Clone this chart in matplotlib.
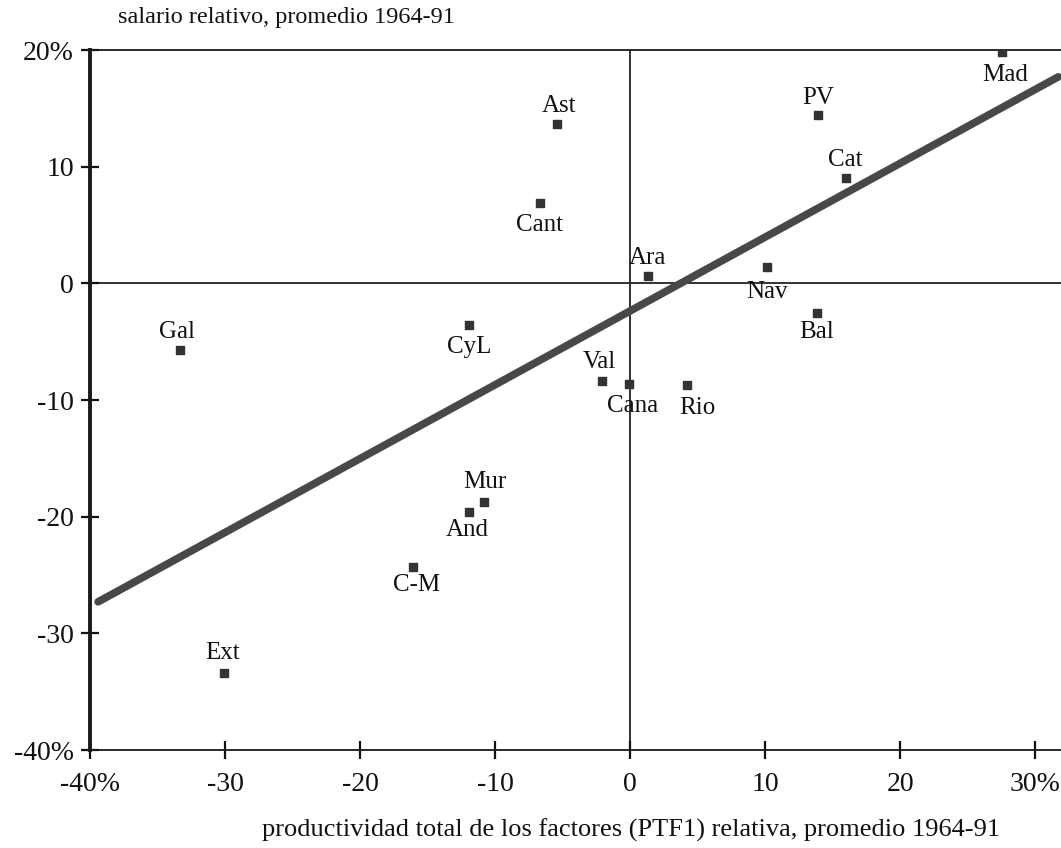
import numpy as np
import matplotlib.pyplot as plt

plt.rcParams["font.family"] = ["Liberation Serif", "DejaVu Serif"]

# Regions: relative TFP (x) vs relative wage (y), averages 1964-91
regions = ["Mad", "PV", "Cat", "Ast", "Cant", "Ara", "Nav", "Bal", "Gal",
           "CyL", "Val", "Cana", "Rio", "Mur", "And", "C-M", "Ext"]
ptf = [27.5, 13.9, 16.0, -5.4, -6.7, 1.3, 10.1, 13.8, -33.3,
       -11.9, -2.1, -0.1, 4.2, -10.8, -11.9, -16.1, -30.1]
salario = [19.8, 14.4, 9.0, 13.7, 6.9, 0.6, 1.4, -2.5, -5.7,
           -3.6, -8.4, -8.6, -8.7, -18.7, -19.6, -24.3, -33.4]

# label offsets in pixels (dx, dy) relative to each marker
label_offsets = [(4, -23), (0, 17), (-1, 18), (2, 18), (0, -22), (0, 18),
                 (0, -25), (0, -20), (-3, 18), (0, -22), (-2, 19), (4, -22),
                 (10, -23), (1, 19), (-2, -18), (4, -18), (-1, 20)]

# fitted regression line end points
fit_x = [-39.4, 31.7]
fit_y = [-27.3, 17.7]

x_ticks = [-40, -30, -20, -10, 0, 10, 20, 30]
x_labels = ["-40%", "-30", "-20", "-10", "0", "10", "20", "30%"]
y_ticks = [-40, -30, -20, -10, 0, 10, 20]
y_labels = ["-40%", "-30", "-20", "-10", "0", "10", "20%"]

fig = plt.figure(figsize=(10.61, 8.48), dpi=100)
ax = fig.add_axes([90 / 1061, 98 / 848, 971 / 1061, 700 / 848])

ax.axhline(0, color="#222222", lw=1.3, zorder=1)
ax.axvline(0, color="#222222", lw=1.3, zorder=1)

ax.plot(fit_x, fit_y, color="#484848", lw=5.5, solid_capstyle="round", zorder=2)

ax.scatter(ptf, salario, marker="s", s=30, color="#333333", zorder=3)
for name, x, y, (dx, dy) in zip(regions, ptf, salario, label_offsets):
    ax.annotate(name, (x, y), xytext=(dx, dy), textcoords="offset pixels",
                ha="center", va="center", fontsize=18, color="#111111")

ax.set_xlim(-40, 31.9)
ax.set_ylim(-40, 20)
ax.set_xticks(x_ticks)
ax.set_xticklabels(x_labels)
ax.set_yticks(y_ticks)
ax.set_yticklabels(y_labels)
ax.tick_params(axis="both", direction="inout", length=13, width=1.6,
               labelsize=20, colors="#111111")
ax.tick_params(axis="x", pad=9)
ax.tick_params(axis="y", pad=5)

ax.spines["right"].set_visible(False)
ax.spines["left"].set_linewidth(2.8)
ax.spines["top"].set_linewidth(1.3)
ax.spines["bottom"].set_linewidth(1.3)
for s in ax.spines.values():
    s.set_color("#1a1a1a")

fig.text(118 / 1061, 1 - 18 / 848, "salario relativo, promedio 1964-91",
         ha="left", va="center", fontsize=17.5, color="#111111")
fig.text(631 / 1061, 1 - 830 / 848,
         "productividad total de los factores (PTF1) relativa, promedio 1964-91",
         ha="center", va="center", fontsize=19, color="#111111")

fig.savefig("out.png", dpi=100)
